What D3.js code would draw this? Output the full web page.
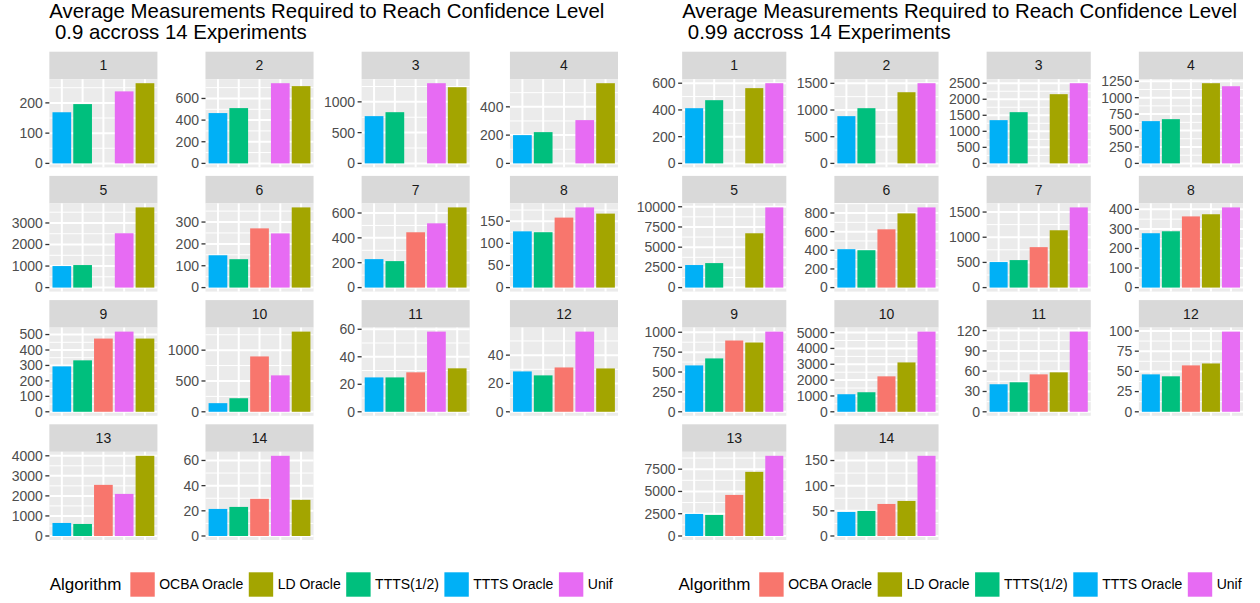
<!DOCTYPE html>
<html><head><meta charset="utf-8">
<script src="https://cdn.jsdelivr.net/npm/d3@7"></script>
<style>
body{margin:0;background:#fff}
text{font-family:"Liberation Sans",Arial,Helvetica,sans-serif}
</style>
</head><body>
<svg id="c" width="1260" height="603"></svg>
<script>
// ---------------- DATA ----------------
const experiments = [1,2,3,4,5,6,7,8,9,10,11,12,13,14];
const algorithms = ["OCBA Oracle","LD Oracle","TTTS(1/2)","TTTS Oracle","Unif"];
const algColors  = ["#F8766D","#A3A500","#00BF7D","#00B0F6","#E76BF3"];

// x-axis order of bars within each panel
const xOrder09  = ["TTTS Oracle","TTTS(1/2)","OCBA Oracle","Unif","LD Oracle"];
const xOrder099 = ["TTTS Oracle","TTTS(1/2)","OCBA Oracle","LD Oracle","Unif"];

// confidence level 0.9
const ttstOracle09 = [169, 465, 768, 200, 1000, 148, 229, 127, 294, 140, 25, 28.5, 650, 21.5];
const ttts12_09    = [196, 511, 832, 221, 1046, 130, 213, 125, 333, 220, 25, 25.7, 600, 23.1];
const ocba09       = [null, null, null, null, null, 271, 445, 158, 474, 898, 28.7, 31.3, 2550, 29.5];
const unif09       = [238, 741, 1303, 306, 2523, 248, 517, 181, 519, 591, 58.3, 56.6, 2100, 63.7];
const ld09         = [265, 714, 1238, 567, 3723, 367, 645, 167, 474, 1301, 31.6, 30.6, 4000, 28.7];
const tickSteps09  = [100, 200, 500, 200, 1000, 100, 200, 50, 100, 500, 20, 20, 1000, 20];

// confidence level 0.99
const ttstOracle099 = [413, 885, 1348, 643, 2790, 412, 507, 278, 583, 1109, 40.7, 46.3, 2475, 47.8];
const ttts12_099    = [473, 1034, 1597, 673, 3030, 401, 546, 288, 671, 1234, 43.6, 43.9, 2363, 49.8];
const ocba099       = [null, null, null, null, null, 625, 803, 364, 896, 2238, 55.3, 57.4, 4610, 63.7];
const ld099         = [563, 1333, 2158, 1220, 6720, 796, 1138, 375, 871, 3117, 58.3, 59.8, 7200, 69.7];
const unif099       = [600, 1502, 2500, 1174, 9920, 860, 1592, 410, 1008, 5063, 118.5, 99.2, 9000, 159.4];
const tickSteps099  = [200, 500, 500, 250, 2500, 200, 500, 100, 250, 1000, 30, 25, 2500, 50];

const title09  = ["Average Measurements Required to Reach Confidence Level", " 0.9 accross 14 Experiments"];
const title099 = ["Average Measurements Required to Reach Confidence Level", " 0.99 accross 14 Experiments"];
const legendTitle = "Algorithm";

const series09 = {"TTTS Oracle": ttstOracle09, "TTTS(1/2)": ttts12_09, "OCBA Oracle": ocba09, "Unif": unif09, "LD Oracle": ld09};
const series099 = {"TTTS Oracle": ttstOracle099, "TTTS(1/2)": ttts12_099, "OCBA Oracle": ocba099, "LD Oracle": ld099, "Unif": unif099};

// ---------------- LAYOUT ----------------
const G = {
  W: 630, mL: 11.7, mR: 12, tickLen: 4, tickGap: 2.5, spH: 10.4, spV: 8.5,
  stripH: 27.5, panelH: 88.2, top: 51.7, ncol: 4,
  tickFont: 14, stripFont: 14, titleFont: 20.4, legTitleFont: 17, legFont: 14,
  keySize: 24.4, legendY: 584.5, legendShift: -2.5
};
const color = d3.scaleOrdinal().domain(algorithms).range(algColors);
const svg = d3.select("#c");
const measurer = svg.append("text").style("visibility","hidden").style("white-space","pre");
function tw(s, size){ measurer.attr("font-size", size).text(s); return measurer.node().getComputedTextLength(); }

function drawHalf(x0, series, order, steps, titleLines){
  const g = svg.append("g").attr("transform", `translate(${x0},0)`);
  const panels = experiments.map((e, i) => {
    const vals = order.map(a => ({alg: a, v: series[a][i]}));
    const mx = d3.max(vals, d => d.v);
    const y = d3.scaleLinear().domain([-0.05*mx, 1.05*mx]).range([G.panelH, 0]);
    const st = steps[i];
    const major = d3.range(0, 1.05*mx + 1e-9, st);
    const minor = d3.range(0, 1.05*mx + 1e-9, st).map(t => t + st/2).filter(t => t <= 1.05*mx);
    return {e, i, vals, y, major, minor, col: i % G.ncol, row: Math.floor(i / G.ncol)};
  });
  const fmt = d3.format("d");
  const axisW = d3.range(G.ncol).map(c =>
    d3.max(panels.filter(p => p.col === c), p => d3.max(p.major, t => tw(fmt(t), G.tickFont))) + G.tickLen + G.tickGap);
  const pw = (G.W - G.mL - G.mR - d3.sum(axisW) - (G.ncol-1)*G.spH) / G.ncol;
  const colX = [];
  let cx = G.mL;
  for (let c = 0; c < G.ncol; c++){ cx += axisW[c]; colX.push(cx); cx += pw + G.spH; }
  const x = d3.scaleLinear().domain([0.4, 5.6]).range([0, pw]);

  panels.forEach(p => {
    const px = colX[p.col];
    const sy = G.top + p.row * (G.stripH + G.panelH + G.spV);
    const py = sy + G.stripH;
    g.append("rect").attr("x", px).attr("y", sy).attr("width", pw).attr("height", G.stripH).attr("fill", "#D9D9D9");
    g.append("text").attr("x", px + pw/2).attr("y", sy + G.stripH/2).attr("dy", "0.35em")
      .attr("text-anchor", "middle").attr("font-size", G.stripFont).attr("fill", "#1A1A1A").text(p.e);
    const pg = g.append("g").attr("transform", `translate(${px},${py})`);
    pg.append("rect").attr("width", pw).attr("height", G.panelH).attr("fill", "#EBEBEB");
    pg.selectAll(".mi").data(p.minor).join("line")
      .attr("x1", 0).attr("x2", pw).attr("y1", d => p.y(d)).attr("y2", d => p.y(d))
      .attr("stroke", "#fff").attr("stroke-width", 1);
    pg.selectAll(".ma").data(p.major).join("line")
      .attr("x1", 0).attr("x2", pw).attr("y1", d => p.y(d)).attr("y2", d => p.y(d))
      .attr("stroke", "#fff").attr("stroke-width", 2);
    pg.selectAll(".vx").data(d3.range(1, order.length + 1)).join("line")
      .attr("x1", d => x(d)).attr("x2", d => x(d)).attr("y1", 0).attr("y2", G.panelH)
      .attr("stroke", "#fff").attr("stroke-width", 2);
    pg.selectAll(".bar").data(p.vals.map((d, k) => ({...d, k: k + 1})).filter(d => d.v != null)).join("rect")
      .attr("x", d => x(d.k - 0.45)).attr("width", x(0.9) - x(0))
      .attr("y", d => p.y(d.v)).attr("height", d => p.y(0) - p.y(d.v))
      .attr("fill", d => color(d.alg));
    const ax = pg.append("g");
    ax.selectAll("line").data(p.major).join("line")
      .attr("x1", -G.tickLen).attr("x2", 0).attr("y1", d => p.y(d)).attr("y2", d => p.y(d))
      .attr("stroke", "#333333").attr("stroke-width", 1.3);
    ax.selectAll("text").data(p.major).join("text")
      .attr("x", -G.tickLen - G.tickGap).attr("y", d => p.y(d)).attr("dy", "0.35em")
      .attr("text-anchor", "end").attr("font-size", G.tickFont).attr("fill", "#4D4D4D").text(d => fmt(d));
  });

  const tx = colX[0];
  titleLines.forEach((t, k) => {
    g.append("text").attr("x", tx).attr("y", 18 + k * 20.5).attr("font-size", G.titleFont)
      .attr("fill", "#000").style("white-space", "pre").text(t);
  });

  const areaL = colX[0], areaR = colX[G.ncol-1] + pw;
  const titleW = tw(legendTitle, G.legTitleFont);
  const labW = algorithms.map(a => tw(a, G.legFont));
  const gapTitle = 8.9, gapKey = 4.5, gapItem = 5.5;
  const total = titleW + gapTitle + d3.sum(labW) + algorithms.length * (G.keySize + gapKey) + (algorithms.length - 1) * gapItem;
  let lx = (areaL + areaR) / 2 - total / 2 + G.legendShift;
  const lg = g.append("g");
  lg.append("text").attr("x", lx).attr("y", G.legendY).attr("dy", "0.35em").attr("font-size", G.legTitleFont)
    .attr("fill", "#000").text(legendTitle);
  lx += titleW + gapTitle;
  algorithms.forEach((a, k) => {
    lg.append("rect").attr("x", lx).attr("y", G.legendY - G.keySize/2).attr("width", G.keySize).attr("height", G.keySize)
      .attr("fill", color(a));
    lx += G.keySize + gapKey;
    lg.append("text").attr("x", lx).attr("y", G.legendY).attr("dy", "0.35em").attr("font-size", G.legFont)
      .attr("fill", "#000").text(a);
    lx += labW[k] + gapItem;
  });
}

drawHalf(0, series09, xOrder09, tickSteps09, title09);
drawHalf(625, series099, xOrder099, tickSteps099, title099);
measurer.remove();
</script>
</body></html>
